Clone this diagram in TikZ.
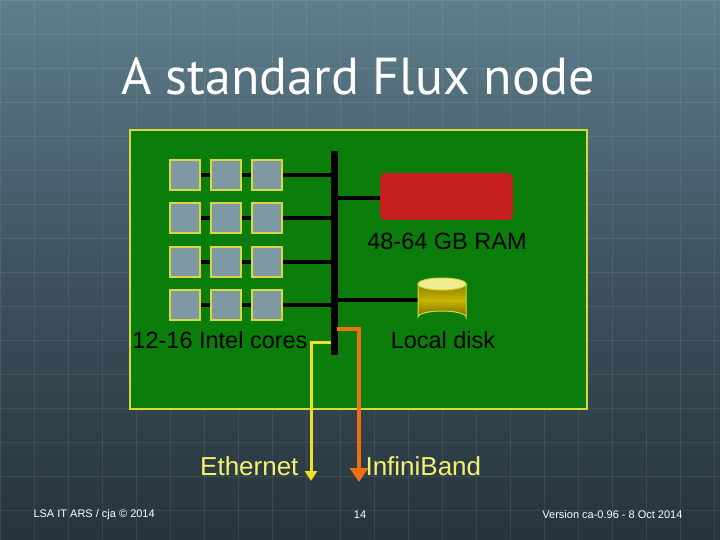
\documentclass[tikz,border=0pt]{standalone}
\usepackage{fontspec}
\setmainfont{Liberation Sans}
\newfontfamily\titlefont{PT Sans}
\usetikzlibrary{shapes.geometric,arrows.meta}
\definecolor{bgt}{HTML}{5E7E8C}
\definecolor{bgm}{HTML}{3E525E}
\definecolor{bgb}{HTML}{26343C}
\definecolor{board}{HTML}{0A7D0A}
\definecolor{bordy}{HTML}{D8D840}
\definecolor{core}{HTML}{7E98A4}
\definecolor{ram}{HTML}{C41E1E}
\definecolor{eth}{HTML}{F2E020}
\definecolor{ib}{HTML}{F07010}
\definecolor{txty}{HTML}{F4F070}
\definecolor{dbody}{HTML}{C8B400}
\definecolor{dtop}{HTML}{F0EC90}
\begin{document}
\begin{tikzpicture}[x=1pt,y=-1pt,
  core/.style={draw=bordy,fill=core,line width=1.2pt,minimum size=30pt,inner sep=0pt},
  wire/.style={line width=4pt,black},
  lbl/.style={font=\fontsize{23.5}{26}\selectfont,text=black},
  foot/.style={font=\fontsize{11}{13}\selectfont,text=white}]
\useasboundingbox (0,0) rectangle (720,540);
\shade[top color=bgt, bottom color=bgb, middle color=bgm] (0,0) rectangle (720,540);
\foreach \i in {0,34,...,720} \draw[white,opacity=0.08,line width=0.8pt] (\i,0) -- (\i,540);
\foreach \i in {0,34,...,540} \draw[white,opacity=0.08,line width=0.8pt] (0,\i) -- (720,\i);
\node[font=\titlefont\fontsize{52}{56}\selectfont,text=white] (title) at (358,76) {A standard Flux node};
\node[draw=bordy,fill=board,line width=2pt,minimum width=457pt,minimum height=279pt,inner sep=0pt] (board) at (358.5,269.5) {};
% bus
\coordinate (bt) at (334,151); \coordinate (bb) at (334,355);
\draw[line width=7pt] (bt) -- (bb);
% cores
\foreach \r/\y in {1/175,2/218,3/262,4/305}{
  \coordinate (bus\r) at (334,\y);
  \draw[wire] (185,\y) -- (bus\r);
  \node[core] (c\r a) at (185,\y) {};
  \node[core] (c\r b) at (226,\y) {};
  \node[core] (c\r c) at (267,\y) {};
}
% RAM
\node[fill=ram,rounded corners=6pt,minimum width=133pt,minimum height=47pt,inner sep=0pt] (ram) at (446.5,196.5) {};
\coordinate (busr) at (334,198);
\draw[wire] (busr) -- (ram.west|-busr);
\node[lbl] (raml) at (447,241) {48-64 GB RAM};
% disk
\coordinate (disk) at (442,300);
\coordinate (diskw) at (418,300);
\coordinate (busd) at (334,300);
\draw[wire] (busd) -- (diskw);
\draw[draw=bordy,line width=1pt,top color=dbody!70!black,bottom color=dbody!60!black,middle color=dbody]
  (418,284) -- (418,317) arc[start angle=180,end angle=360,x radius=24,y radius=6] -- (466,284) -- cycle;
\draw[draw=bordy,line width=1pt,fill=dtop] (442,284) ellipse[x radius=24,y radius=6];
\node[lbl] (diskl) at (443,340) {Local disk};
\node[lbl] (corel) at (220,340) {12-16 Intel cores};
% ethernet & infiniband
\coordinate (be) at (331,342);
\coordinate (ee) at (311,481);
\draw[eth,line width=3pt,-{Triangle[length=10pt,width=12pt]}] (be) -| (ee);
\coordinate (bi) at (337,329);
\coordinate (ie) at (359,482);
\draw[ib,line width=4.5pt,-{Triangle[length=14pt,width=18pt]}] (bi) -| (ie);
\node[font=\fontsize{26}{28}\selectfont,text=txty,anchor=east] (ethl) at (302,466) {Ethernet};
\node[font=\fontsize{26}{28}\selectfont,text=txty,anchor=west] (ibl) at (362,466) {InfiniBand};
% footer
\node[foot,anchor=west] (f1) at (30,515) {LSA IT ARS / cja © 2014};
\node[foot] (f2) at (360,515) {14};
\node[foot,anchor=east] (f3) at (686,515) {Version ca-0.96 - 8 Oct 2014};
\end{tikzpicture}
\end{document}
